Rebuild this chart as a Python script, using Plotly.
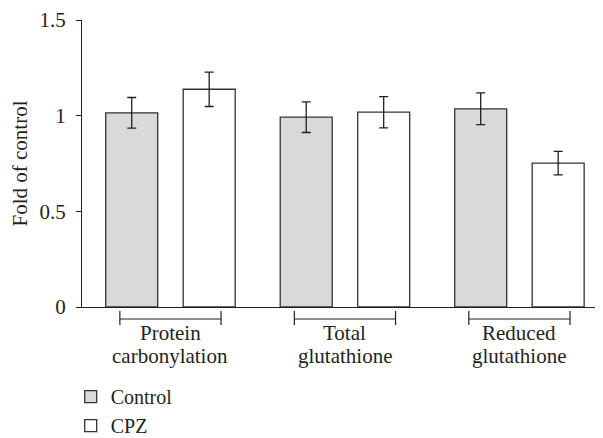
import plotly.graph_objects as go

categories = ["Protein carbonylation", "Total glutathione", "Reduced glutathione"]
control_values = [1.015, 0.992, 1.036]
control_errors = [0.080, 0.080, 0.083]
cpz_values = [1.138, 1.018, 0.752]
cpz_errors = [0.090, 0.082, 0.061]
y_ticks = [0, 0.5, 1, 1.5]
y_tick_labels = ["0", "0.5", "1", "1.5"]

FONT = "Liberation Serif, DejaVu Serif, serif"
FS = 21
INK = "#231f20"
EDGE = "#333333"

fig = go.Figure()
fig.add_trace(go.Bar(
    x=categories, y=control_values, name="Control",
    marker=dict(color="#d9d9d9", line=dict(color=EDGE, width=1.3)),
    error_y=dict(type="data", array=control_errors, color=INK, thickness=1.3, width=4.5),
))
fig.add_trace(go.Bar(
    x=categories, y=cpz_values, name="CPZ",
    marker=dict(color="#ffffff", line=dict(color=EDGE, width=1.3)),
    error_y=dict(type="data", array=cpz_errors, color=INK, thickness=1.3, width=4.5),
))

shapes = []
annotations = []
half = 0.29
yb, yt1, yt2 = -0.0418, -0.0139, -0.0627
for i, cat in enumerate(categories):
    shapes.append(dict(type="line", xref="x", yref="paper", x0=i - half, x1=i + half, y0=yb, y1=yb,
                       line=dict(color=INK, width=1.2)))
    for sx in (i - half, i + half):
        shapes.append(dict(type="line", xref="x", yref="paper", x0=sx, x1=sx, y0=yt1, y1=yt2,
                           line=dict(color=INK, width=1.2)))
    first, second = cat.split(" ", 1)
    for j, line in enumerate((first, second)):
        annotations.append(dict(text=line, x=i, xref="x", yref="paper", y=-0.043 - j * 0.078,
                                yanchor="top", xanchor="center", showarrow=False,
                                font=dict(family=FONT, size=FS, color=INK)))

fig.update_layout(
    width=595, height=430,
    margin=dict(l=74, r=0, t=12, b=131, autoexpand=False),
    paper_bgcolor="white", plot_bgcolor="white",
    barmode="group", bargap=0.112, bargroupgap=0.329,
    font=dict(family=FONT, size=FS, color=INK),
    shapes=shapes, annotations=annotations,
    showlegend=True,
    legend=dict(orientation="v", x=-0.0217, xanchor="left", y=-0.2445, yanchor="top",
                font=dict(family=FONT, size=20, color=INK), bgcolor="rgba(0,0,0,0)",
                tracegroupgap=0),
    xaxis=dict(range=[-0.507, 2.479], showticklabels=False, ticks="", showline=True,
               linecolor=INK, linewidth=1.2, showgrid=False, zeroline=False, automargin=False),
    yaxis=dict(range=[0, 1.5], tickvals=y_ticks, ticktext=y_tick_labels, ticks="outside",
               ticklen=5, tickcolor=INK, tickwidth=1.2, showline=True, linecolor=INK,
               linewidth=1.2, showgrid=False, zeroline=False, automargin=False,
               ticklabelstandoff=6,
               title=dict(text="Fold of control", font=dict(family=FONT, size=FS, color=INK), standoff=10),
               tickfont=dict(family=FONT, size=FS, color=INK)),
)

fig.write_html("out.html")
